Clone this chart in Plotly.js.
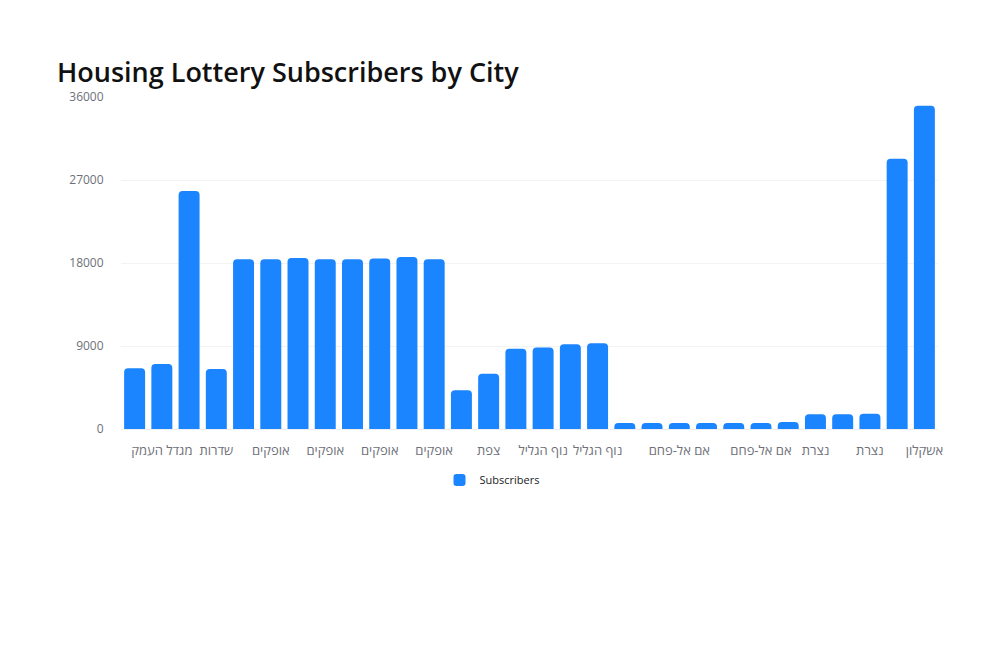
<!DOCTYPE html>
<html>
<head>
<meta charset="utf-8">
<script src="https://cdn.plot.ly/plotly-3.0.1.min.js"></script>
<style>html,body{margin:0;padding:0;background:#fff;}#chart{width:1000px;height:650px;}</style>
</head>
<body>
<div id="chart"></div>
<script>
const cities = [
  'מגדל העמק','מגדל העמק','שדרות','שדרות',
  'אופקים','אופקים','אופקים','אופקים','אופקים','אופקים','אופקים','אופקים',
  'צפת','צפת',
  'נוף הגליל','נוף הגליל','נוף הגליל','נוף הגליל',
  'אם אל-פחם','אם אל-פחם','אם אל-פחם','אם אל-פחם','אם אל-פחם','אם אל-פחם','אם אל-פחם',
  'נצרת','נצרת','נצרת',
  'אשקלון','אשקלון'
];
const subscribers = [
  6600, 7050, 25800, 6500,
  18400, 18400, 18550, 18400, 18400, 18500, 18650, 18400,
  4200, 6000,
  8700, 8850, 9200, 9300,
  650, 650, 650, 650, 650, 650, 750,
  1600, 1600, 1650,
  29300, 35050
];
const labelledIdx = [1, 3, 5, 7, 9, 11, 13, 15, 17, 20, 23, 25, 27, 29];
const yTicks = [0, 9000, 18000, 27000, 36000];

const xIdx = cities.map((_, i) => i);

const trace = {
  type: 'bar',
  name: 'Subscribers',
  x: xIdx,
  y: subscribers,
  marker: {color: '#1b84ff', cornerradius: 4},
  showlegend: true,
  hoverinfo: 'y'
};

const layout = {
  width: 1000, height: 650,
  paper_bgcolor: '#ffffff', plot_bgcolor: '#ffffff',
  font: {family: '"Open Sans", "DejaVu Sans", sans-serif', color: '#6e7079', size: 12},
  margin: {l: 121, r: 62, t: 97, b: 221, pad: 0},
  bargap: 0.23,
  title: {
    text: 'Housing Lottery Subscribers by City',
    font: {size: 27, color: '#111111', weight: 600, family: '"Open Sans", "DejaVu Sans", sans-serif'},
    x: 0.057, xanchor: 'left', xref: 'container',
    y: 1 - 73/650, yanchor: 'middle', yref: 'container'
  },
  xaxis: {
    range: [-0.5, cities.length - 0.5],
    tickvals: labelledIdx,
    ticktext: labelledIdx.map(i => cities[i]),
    tickangle: 0,
    tickfont: {size: 13, color: '#6e7079'},
    showgrid: false, zeroline: false,
    showline: true, linecolor: '#eeeeee', linewidth: 1,
    ticks: 'outside', ticklen: 9, tickcolor: 'rgba(0,0,0,0)',
    fixedrange: true
  },
  yaxis: {
    range: [0, 36000],
    tickvals: yTicks,
    ticktext: yTicks.map(String),
    tickfont: {size: 12, color: '#6e7079'},
    showgrid: true, gridcolor: '#f3f3f3', gridwidth: 1,
    zeroline: false, showline: false,
    ticks: 'outside', ticklen: 14, tickcolor: 'rgba(0,0,0,0)',
    fixedrange: true
  },
  legend: {
    orientation: 'h',
    x: 0.492, xanchor: 'center', xref: 'container',
    y: 1 - 480/650, yanchor: 'middle', yref: 'container',
    font: {size: 11, color: '#222222'},
    itemwidth: 30
  },
  showlegend: true
};

Plotly.newPlot('chart', [trace], layout, {displayModeBar: false, staticPlot: true});
</script>
</body>
</html>
